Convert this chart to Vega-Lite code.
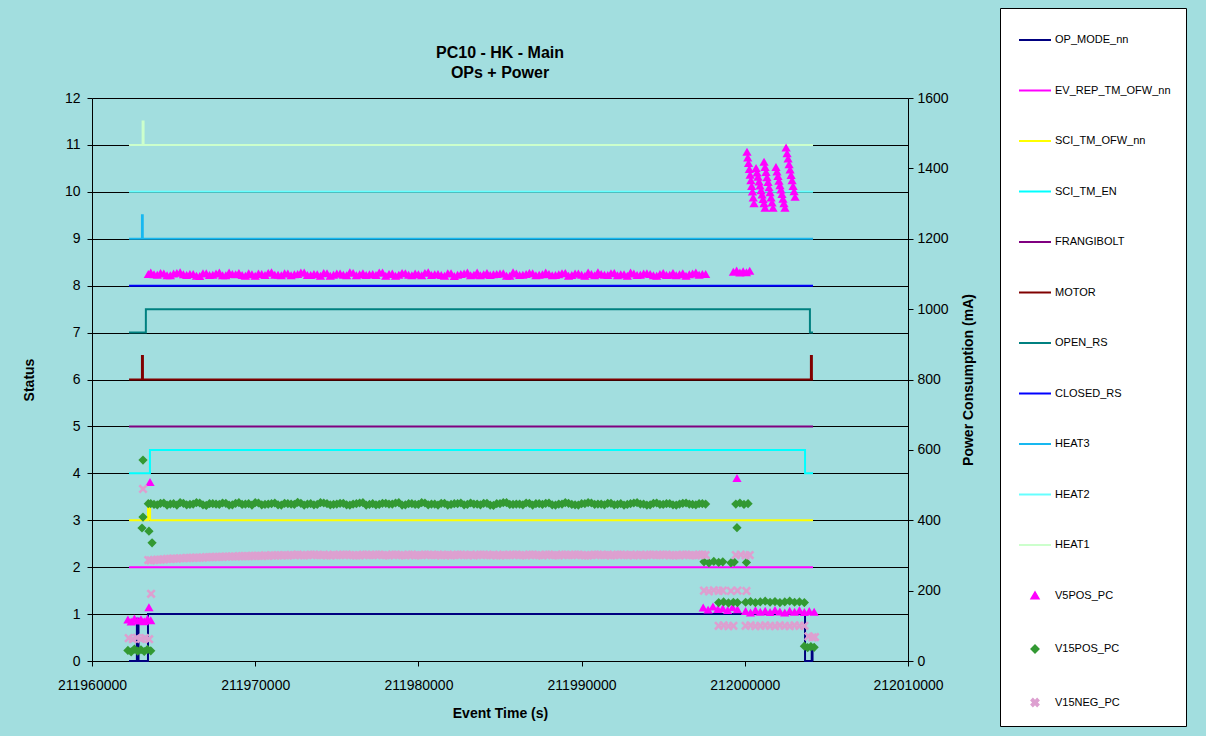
{
  "$schema": "https://vega.github.io/schema/vega-lite/v6.json",
  "autosize": {"type": "none"},
  "width": 816,
  "height": 563,
  "padding": {"left": 92, "top": 98, "right": 298, "bottom": 75},
  "background": "#A2DEDF",
  "title": {"text": ["PC10 - HK - Main", "OPs + Power"], "font": "Liberation Sans", "fontSize": 16, "fontWeight": "bold", "lineHeight": 20, "offset": -73, "anchor": "middle", "color": "black"},
  "config": {
    "view": {"stroke": null},
    "axis": {"domainColor": "black", "tickColor": "black", "labelColor": "black", "titleColor": "black", "labelFont": "Liberation Sans", "titleFont": "Liberation Sans", "labelFontSize": 14, "titleFontSize": 14, "titleFontWeight": "bold", "tickSize": 5, "domainWidth": 1, "tickWidth": 1}
  },
  "datasets": {
    "status": [
      {"s":"OP_MODE_nn","t":211962270,"v":0},{"s":"OP_MODE_nn","t":211962750,"v":0},{"s":"OP_MODE_nn","t":211962751,"v":0.9},{"s":"OP_MODE_nn","t":211962850,"v":0.9},{"s":"OP_MODE_nn","t":211962851,"v":0},{"s":"OP_MODE_nn","t":211963430,"v":0},{"s":"OP_MODE_nn","t":211963431,"v":1},{"s":"OP_MODE_nn","t":212003690,"v":1},{"s":"OP_MODE_nn","t":212003691,"v":0},{"s":"OP_MODE_nn","t":212004100,"v":0},{"s":"OP_MODE_nn","t":212004101,"v":0.3},{"s":"OP_MODE_nn","t":212004150,"v":0.3},{"s":"OP_MODE_nn","t":212004151,"v":0},{"s":"OP_MODE_nn","t":212004180,"v":0},
      {"s":"EV_REP_TM_OFW_nn","t":211962270,"v":2},{"s":"EV_REP_TM_OFW_nn","t":212004180,"v":2},
      {"s":"SCI_TM_OFW_nn","t":211962270,"v":3},{"s":"SCI_TM_OFW_nn","t":211963430,"v":3},{"s":"SCI_TM_OFW_nn","t":211963431,"v":3.4},{"s":"SCI_TM_OFW_nn","t":211963560,"v":3.4},{"s":"SCI_TM_OFW_nn","t":211963561,"v":3},{"s":"SCI_TM_OFW_nn","t":212004180,"v":3},
      {"s":"SCI_TM_EN","t":211962270,"v":4},{"s":"SCI_TM_EN","t":211963550,"v":4},{"s":"SCI_TM_EN","t":211963551,"v":4.5},{"s":"SCI_TM_EN","t":212003690,"v":4.5},{"s":"SCI_TM_EN","t":212003691,"v":4},{"s":"SCI_TM_EN","t":212004180,"v":4},
      {"s":"FRANGIBOLT","t":211962270,"v":5},{"s":"FRANGIBOLT","t":212004180,"v":5},
      {"s":"MOTOR","t":211962270,"v":6},{"s":"MOTOR","t":211963060,"v":6},{"s":"MOTOR","t":211963061,"v":6.5},{"s":"MOTOR","t":211963120,"v":6.5},{"s":"MOTOR","t":211963121,"v":6},{"s":"MOTOR","t":212004050,"v":6},{"s":"MOTOR","t":212004051,"v":6.5},{"s":"MOTOR","t":212004110,"v":6.5},{"s":"MOTOR","t":212004111,"v":6},{"s":"MOTOR","t":212004180,"v":6},
      {"s":"OPEN_RS","t":211962270,"v":7},{"s":"OPEN_RS","t":211963300,"v":7},{"s":"OPEN_RS","t":211963301,"v":7.5},{"s":"OPEN_RS","t":212003990,"v":7.5},{"s":"OPEN_RS","t":212003991,"v":7},{"s":"OPEN_RS","t":212004180,"v":7},
      {"s":"CLOSED_RS","t":211962270,"v":8},{"s":"CLOSED_RS","t":212004180,"v":8},
      {"s":"HEAT3","t":211962270,"v":9},{"s":"HEAT3","t":211963060,"v":9},{"s":"HEAT3","t":211963061,"v":9.5},{"s":"HEAT3","t":211963110,"v":9.5},{"s":"HEAT3","t":211963111,"v":9},{"s":"HEAT3","t":212004180,"v":9},
      {"s":"HEAT2","t":211962270,"v":10},{"s":"HEAT2","t":212004180,"v":10},
      {"s":"HEAT1","t":211962270,"v":11},{"s":"HEAT1","t":211963100,"v":11},{"s":"HEAT1","t":211963101,"v":11.5},{"s":"HEAT1","t":211963160,"v":11.5},{"s":"HEAT1","t":211963161,"v":11},{"s":"HEAT1","t":212004180,"v":11}
    ],
    "power": [
      {"s":"V5POS_PC","t":211962200,"p":118},{"s":"V5POS_PC","t":211962400,"p":112},{"s":"V5POS_PC","t":211962600,"p":121},{"s":"V5POS_PC","t":211962800,"p":115},{"s":"V5POS_PC","t":211963000,"p":119},{"s":"V5POS_PC","t":211963200,"p":113},{"s":"V5POS_PC","t":211963400,"p":120},{"s":"V5POS_PC","t":211963600,"p":116},
      {"s":"V5POS_PC","t":211963490,"p":153},{"s":"V5POS_PC","t":211963554,"p":509},{"s":"V5POS_PC","t":211963450,"p":1100},{"s":"V5POS_PC","t":211999520,"p":520},
      {"s":"V5POS_PC","t":211963600,"p":1104},{"s":"V5POS_PC","t":211964000,"p":1098},{"s":"V5POS_PC","t":211964400,"p":1101},{"s":"V5POS_PC","t":211964800,"p":1096},{"s":"V5POS_PC","t":211965200,"p":1103},{"s":"V5POS_PC","t":211965600,"p":1099},{"s":"V5POS_PC","t":211966000,"p":1100},{"s":"V5POS_PC","t":211966400,"p":1095},{"s":"V5POS_PC","t":211966800,"p":1102},{"s":"V5POS_PC","t":211967200,"p":1097},
      {"s":"V5POS_PC","t":211967600,"p":1101},{"s":"V5POS_PC","t":211968000,"p":1096},{"s":"V5POS_PC","t":211968400,"p":1104},{"s":"V5POS_PC","t":211968800,"p":1099},{"s":"V5POS_PC","t":211969200,"p":1097},{"s":"V5POS_PC","t":211969600,"p":1102},{"s":"V5POS_PC","t":211970000,"p":1095},{"s":"V5POS_PC","t":211970400,"p":1100},{"s":"V5POS_PC","t":211970800,"p":1103},{"s":"V5POS_PC","t":211971200,"p":1098},
      {"s":"V5POS_PC","t":211971600,"p":1096},{"s":"V5POS_PC","t":211972000,"p":1101},{"s":"V5POS_PC","t":211972400,"p":1099},{"s":"V5POS_PC","t":211972800,"p":1104},{"s":"V5POS_PC","t":211973200,"p":1097},{"s":"V5POS_PC","t":211973600,"p":1100},{"s":"V5POS_PC","t":211974000,"p":1095},{"s":"V5POS_PC","t":211974400,"p":1102},{"s":"V5POS_PC","t":211974800,"p":1098},{"s":"V5POS_PC","t":211975200,"p":1101},
      {"s":"V5POS_PC","t":211975600,"p":1096},{"s":"V5POS_PC","t":211976000,"p":1103},{"s":"V5POS_PC","t":211976400,"p":1099},{"s":"V5POS_PC","t":211976800,"p":1097},{"s":"V5POS_PC","t":211977200,"p":1100},{"s":"V5POS_PC","t":211977600,"p":1104},{"s":"V5POS_PC","t":211978000,"p":1095},{"s":"V5POS_PC","t":211978400,"p":1101},{"s":"V5POS_PC","t":211978800,"p":1098},{"s":"V5POS_PC","t":211979200,"p":1102},
      {"s":"V5POS_PC","t":211979600,"p":1096},{"s":"V5POS_PC","t":211980000,"p":1099},{"s":"V5POS_PC","t":211980400,"p":1103},{"s":"V5POS_PC","t":211980800,"p":1097},{"s":"V5POS_PC","t":211981200,"p":1100},{"s":"V5POS_PC","t":211981600,"p":1095},{"s":"V5POS_PC","t":211982000,"p":1102},{"s":"V5POS_PC","t":211982400,"p":1098},{"s":"V5POS_PC","t":211982800,"p":1101},{"s":"V5POS_PC","t":211983200,"p":1096},
      {"s":"V5POS_PC","t":211983600,"p":1104},{"s":"V5POS_PC","t":211984000,"p":1099},{"s":"V5POS_PC","t":211984400,"p":1097},{"s":"V5POS_PC","t":211984800,"p":1100},{"s":"V5POS_PC","t":211985200,"p":1102},{"s":"V5POS_PC","t":211985600,"p":1095},{"s":"V5POS_PC","t":211986000,"p":1101},{"s":"V5POS_PC","t":211986400,"p":1098},{"s":"V5POS_PC","t":211986800,"p":1103},{"s":"V5POS_PC","t":211987200,"p":1096},
      {"s":"V5POS_PC","t":211987600,"p":1099},{"s":"V5POS_PC","t":211988000,"p":1100},{"s":"V5POS_PC","t":211988400,"p":1097},{"s":"V5POS_PC","t":211988800,"p":1102},{"s":"V5POS_PC","t":211989200,"p":1095},{"s":"V5POS_PC","t":211989600,"p":1101},{"s":"V5POS_PC","t":211990000,"p":1098},{"s":"V5POS_PC","t":211990400,"p":1104},{"s":"V5POS_PC","t":211990800,"p":1096},{"s":"V5POS_PC","t":211991200,"p":1100},
      {"s":"V5POS_PC","t":211991600,"p":1097},{"s":"V5POS_PC","t":211992000,"p":1103},{"s":"V5POS_PC","t":211992400,"p":1099},{"s":"V5POS_PC","t":211992800,"p":1095},{"s":"V5POS_PC","t":211993200,"p":1101},{"s":"V5POS_PC","t":211993600,"p":1098},{"s":"V5POS_PC","t":211994000,"p":1102},{"s":"V5POS_PC","t":211994400,"p":1096},{"s":"V5POS_PC","t":211994800,"p":1100},{"s":"V5POS_PC","t":211995200,"p":1097},
      {"s":"V5POS_PC","t":211995600,"p":1103},{"s":"V5POS_PC","t":211996000,"p":1099},{"s":"V5POS_PC","t":211996400,"p":1095},{"s":"V5POS_PC","t":211996800,"p":1101},{"s":"V5POS_PC","t":211997200,"p":1098},{"s":"V5POS_PC","t":211997600,"p":1100},
      {"s":"V5POS_PC","t":211963800,"p":1099},{"s":"V5POS_PC","t":211964200,"p":1103},{"s":"V5POS_PC","t":211964600,"p":1096},{"s":"V5POS_PC","t":211965000,"p":1101},{"s":"V5POS_PC","t":211965400,"p":1105},{"s":"V5POS_PC","t":211965800,"p":1097},{"s":"V5POS_PC","t":211966200,"p":1100},{"s":"V5POS_PC","t":211966600,"p":1094},{"s":"V5POS_PC","t":211967000,"p":1102},{"s":"V5POS_PC","t":211967400,"p":1098},
      {"s":"V5POS_PC","t":211967800,"p":1104},{"s":"V5POS_PC","t":211968200,"p":1096},{"s":"V5POS_PC","t":211968600,"p":1100},{"s":"V5POS_PC","t":211969000,"p":1103},{"s":"V5POS_PC","t":211969400,"p":1095},{"s":"V5POS_PC","t":211969800,"p":1099},{"s":"V5POS_PC","t":211970200,"p":1101},{"s":"V5POS_PC","t":211970600,"p":1097},{"s":"V5POS_PC","t":211971000,"p":1105},{"s":"V5POS_PC","t":211971400,"p":1098},
      {"s":"V5POS_PC","t":211971800,"p":1102},{"s":"V5POS_PC","t":211972200,"p":1096},{"s":"V5POS_PC","t":211972600,"p":1100},{"s":"V5POS_PC","t":211973000,"p":1104},{"s":"V5POS_PC","t":211973400,"p":1097},{"s":"V5POS_PC","t":211973800,"p":1099},{"s":"V5POS_PC","t":211974200,"p":1103},{"s":"V5POS_PC","t":211974600,"p":1095},{"s":"V5POS_PC","t":211975000,"p":1101},{"s":"V5POS_PC","t":211975400,"p":1098},
      {"s":"V5POS_PC","t":211975800,"p":1105},{"s":"V5POS_PC","t":211976200,"p":1096},{"s":"V5POS_PC","t":211976600,"p":1102},{"s":"V5POS_PC","t":211977000,"p":1099},{"s":"V5POS_PC","t":211977400,"p":1097},{"s":"V5POS_PC","t":211977800,"p":1104},{"s":"V5POS_PC","t":211978200,"p":1100},{"s":"V5POS_PC","t":211978600,"p":1095},{"s":"V5POS_PC","t":211979000,"p":1103},{"s":"V5POS_PC","t":211979400,"p":1098},
      {"s":"V5POS_PC","t":211979800,"p":1101},{"s":"V5POS_PC","t":211980200,"p":1096},{"s":"V5POS_PC","t":211980600,"p":1105},{"s":"V5POS_PC","t":211981000,"p":1099},{"s":"V5POS_PC","t":211981400,"p":1097},{"s":"V5POS_PC","t":211981800,"p":1102},{"s":"V5POS_PC","t":211982200,"p":1094},{"s":"V5POS_PC","t":211982600,"p":1100},{"s":"V5POS_PC","t":211983000,"p":1104},{"s":"V5POS_PC","t":211983400,"p":1098},
      {"s":"V5POS_PC","t":211983800,"p":1096},{"s":"V5POS_PC","t":211984200,"p":1103},{"s":"V5POS_PC","t":211984600,"p":1099},{"s":"V5POS_PC","t":211985000,"p":1101},{"s":"V5POS_PC","t":211985400,"p":1095},{"s":"V5POS_PC","t":211985800,"p":1105},{"s":"V5POS_PC","t":211986200,"p":1097},{"s":"V5POS_PC","t":211986600,"p":1100},{"s":"V5POS_PC","t":211987000,"p":1102},{"s":"V5POS_PC","t":211987400,"p":1098},
      {"s":"V5POS_PC","t":211987800,"p":1104},{"s":"V5POS_PC","t":211988200,"p":1096},{"s":"V5POS_PC","t":211988600,"p":1099},{"s":"V5POS_PC","t":211989000,"p":1103},{"s":"V5POS_PC","t":211989400,"p":1097},{"s":"V5POS_PC","t":211989800,"p":1101},{"s":"V5POS_PC","t":211990200,"p":1095},{"s":"V5POS_PC","t":211990600,"p":1100},{"s":"V5POS_PC","t":211991000,"p":1105},{"s":"V5POS_PC","t":211991400,"p":1098},
      {"s":"V5POS_PC","t":211991800,"p":1102},{"s":"V5POS_PC","t":211992200,"p":1096},{"s":"V5POS_PC","t":211992600,"p":1099},{"s":"V5POS_PC","t":211993000,"p":1104},{"s":"V5POS_PC","t":211993400,"p":1097},{"s":"V5POS_PC","t":211993800,"p":1101},{"s":"V5POS_PC","t":211994200,"p":1100},{"s":"V5POS_PC","t":211994600,"p":1095},{"s":"V5POS_PC","t":211995000,"p":1103},{"s":"V5POS_PC","t":211995400,"p":1098},
      {"s":"V5POS_PC","t":211995800,"p":1096},{"s":"V5POS_PC","t":211996200,"p":1102},{"s":"V5POS_PC","t":211996600,"p":1099},{"s":"V5POS_PC","t":211997000,"p":1104},{"s":"V5POS_PC","t":211997400,"p":1100},
      {"s":"V5POS_PC","t":211999300,"p":1106},{"s":"V5POS_PC","t":211999500,"p":1110},{"s":"V5POS_PC","t":211999700,"p":1104},{"s":"V5POS_PC","t":211999900,"p":1108},{"s":"V5POS_PC","t":212000100,"p":1105},{"s":"V5POS_PC","t":212000300,"p":1109},
      {"s":"V5POS_PC","t":212000135,"p":1447},{"s":"V5POS_PC","t":212000183,"p":1431},{"s":"V5POS_PC","t":212000230,"p":1415},{"s":"V5POS_PC","t":212000278,"p":1398},{"s":"V5POS_PC","t":212000326,"p":1382},{"s":"V5POS_PC","t":212000373,"p":1366},{"s":"V5POS_PC","t":212000421,"p":1350},{"s":"V5POS_PC","t":212000469,"p":1334},{"s":"V5POS_PC","t":212000516,"p":1317},{"s":"V5POS_PC","t":212000564,"p":1301},
      {"s":"V5POS_PC","t":212000690,"p":1401},{"s":"V5POS_PC","t":212000751,"p":1388},{"s":"V5POS_PC","t":212000812,"p":1376},{"s":"V5POS_PC","t":212000873,"p":1363},{"s":"V5POS_PC","t":212000934,"p":1351},{"s":"V5POS_PC","t":212000996,"p":1338},{"s":"V5POS_PC","t":212001057,"p":1326},{"s":"V5POS_PC","t":212001118,"p":1313},{"s":"V5POS_PC","t":212001179,"p":1301},{"s":"V5POS_PC","t":212001240,"p":1288},
      {"s":"V5POS_PC","t":212001180,"p":1419},{"s":"V5POS_PC","t":212001241,"p":1404},{"s":"V5POS_PC","t":212001302,"p":1390},{"s":"V5POS_PC","t":212001363,"p":1375},{"s":"V5POS_PC","t":212001424,"p":1361},{"s":"V5POS_PC","t":212001486,"p":1346},{"s":"V5POS_PC","t":212001547,"p":1332},{"s":"V5POS_PC","t":212001608,"p":1317},{"s":"V5POS_PC","t":212001669,"p":1303},{"s":"V5POS_PC","t":212001730,"p":1288},
      {"s":"V5POS_PC","t":212001910,"p":1404},{"s":"V5POS_PC","t":212001971,"p":1391},{"s":"V5POS_PC","t":212002032,"p":1378},{"s":"V5POS_PC","t":212002093,"p":1365},{"s":"V5POS_PC","t":212002154,"p":1352},{"s":"V5POS_PC","t":212002216,"p":1340},{"s":"V5POS_PC","t":212002277,"p":1327},{"s":"V5POS_PC","t":212002338,"p":1314},{"s":"V5POS_PC","t":212002399,"p":1301},{"s":"V5POS_PC","t":212002460,"p":1288},
      {"s":"V5POS_PC","t":212002530,"p":1459},{"s":"V5POS_PC","t":212002591,"p":1443},{"s":"V5POS_PC","t":212002652,"p":1428},{"s":"V5POS_PC","t":212002713,"p":1412},{"s":"V5POS_PC","t":212002774,"p":1397},{"s":"V5POS_PC","t":212002836,"p":1381},{"s":"V5POS_PC","t":212002897,"p":1366},{"s":"V5POS_PC","t":212002958,"p":1350},{"s":"V5POS_PC","t":212003019,"p":1335},{"s":"V5POS_PC","t":212003080,"p":1319},
      {"s":"V5POS_PC","t":211997450,"p":152},{"s":"V5POS_PC","t":211997750,"p":146},{"s":"V5POS_PC","t":211998050,"p":155},{"s":"V5POS_PC","t":211998350,"p":148},{"s":"V5POS_PC","t":211998650,"p":150},{"s":"V5POS_PC","t":211998950,"p":145},{"s":"V5POS_PC","t":211999250,"p":153},{"s":"V5POS_PC","t":211999550,"p":147},
      {"s":"V5POS_PC","t":212000050,"p":142},{"s":"V5POS_PC","t":212000350,"p":138},{"s":"V5POS_PC","t":212000650,"p":144},{"s":"V5POS_PC","t":212000950,"p":140},{"s":"V5POS_PC","t":212001250,"p":143},{"s":"V5POS_PC","t":212001550,"p":139},{"s":"V5POS_PC","t":212001850,"p":145},{"s":"V5POS_PC","t":212002150,"p":141},{"s":"V5POS_PC","t":212002450,"p":138},{"s":"V5POS_PC","t":212002750,"p":143},{"s":"V5POS_PC","t":212003050,"p":140},{"s":"V5POS_PC","t":212003350,"p":144},{"s":"V5POS_PC","t":212003650,"p":139},{"s":"V5POS_PC","t":212003950,"p":142},{"s":"V5POS_PC","t":212004250,"p":140},

      {"s":"V15POS_PC","t":211962200,"p":30},{"s":"V15POS_PC","t":211962400,"p":26},{"s":"V15POS_PC","t":211962600,"p":34},{"s":"V15POS_PC","t":211962800,"p":28},{"s":"V15POS_PC","t":211963000,"p":32},{"s":"V15POS_PC","t":211963200,"p":27},{"s":"V15POS_PC","t":211963400,"p":33},{"s":"V15POS_PC","t":211963600,"p":29},
      {"s":"V15POS_PC","t":211963125,"p":571},{"s":"V15POS_PC","t":211963125,"p":409},{"s":"V15POS_PC","t":211963064,"p":378},{"s":"V15POS_PC","t":211963490,"p":369},{"s":"V15POS_PC","t":211963680,"p":336},{"s":"V15POS_PC","t":211963450,"p":447},
      {"s":"V15POS_PC","t":211963600,"p":447},{"s":"V15POS_PC","t":211964000,"p":444},{"s":"V15POS_PC","t":211964400,"p":449},{"s":"V15POS_PC","t":211964800,"p":446},{"s":"V15POS_PC","t":211965200,"p":443},{"s":"V15POS_PC","t":211965600,"p":448},{"s":"V15POS_PC","t":211966000,"p":445},{"s":"V15POS_PC","t":211966400,"p":450},{"s":"V15POS_PC","t":211966800,"p":444},{"s":"V15POS_PC","t":211967200,"p":447},
      {"s":"V15POS_PC","t":211967600,"p":446},{"s":"V15POS_PC","t":211968000,"p":449},{"s":"V15POS_PC","t":211968400,"p":443},{"s":"V15POS_PC","t":211968800,"p":448},{"s":"V15POS_PC","t":211969200,"p":445},{"s":"V15POS_PC","t":211969600,"p":447},{"s":"V15POS_PC","t":211970000,"p":450},{"s":"V15POS_PC","t":211970400,"p":444},{"s":"V15POS_PC","t":211970800,"p":446},{"s":"V15POS_PC","t":211971200,"p":449},
      {"s":"V15POS_PC","t":211971600,"p":443},{"s":"V15POS_PC","t":211972000,"p":447},{"s":"V15POS_PC","t":211972400,"p":445},{"s":"V15POS_PC","t":211972800,"p":448},{"s":"V15POS_PC","t":211973200,"p":446},{"s":"V15POS_PC","t":211973600,"p":444},{"s":"V15POS_PC","t":211974000,"p":450},{"s":"V15POS_PC","t":211974400,"p":447},{"s":"V15POS_PC","t":211974800,"p":445},{"s":"V15POS_PC","t":211975200,"p":448},
      {"s":"V15POS_PC","t":211975600,"p":444},{"s":"V15POS_PC","t":211976000,"p":446},{"s":"V15POS_PC","t":211976400,"p":449},{"s":"V15POS_PC","t":211976800,"p":443},{"s":"V15POS_PC","t":211977200,"p":447},{"s":"V15POS_PC","t":211977600,"p":445},{"s":"V15POS_PC","t":211978000,"p":448},{"s":"V15POS_PC","t":211978400,"p":446},{"s":"V15POS_PC","t":211978800,"p":450},{"s":"V15POS_PC","t":211979200,"p":444},
      {"s":"V15POS_PC","t":211979600,"p":447},{"s":"V15POS_PC","t":211980000,"p":445},{"s":"V15POS_PC","t":211980400,"p":449},{"s":"V15POS_PC","t":211980800,"p":446},{"s":"V15POS_PC","t":211981200,"p":443},{"s":"V15POS_PC","t":211981600,"p":448},{"s":"V15POS_PC","t":211982000,"p":445},{"s":"V15POS_PC","t":211982400,"p":447},{"s":"V15POS_PC","t":211982800,"p":444},{"s":"V15POS_PC","t":211983200,"p":449},
      {"s":"V15POS_PC","t":211983600,"p":446},{"s":"V15POS_PC","t":211984000,"p":448},{"s":"V15POS_PC","t":211984400,"p":443},{"s":"V15POS_PC","t":211984800,"p":447},{"s":"V15POS_PC","t":211985200,"p":450},{"s":"V15POS_PC","t":211985600,"p":445},{"s":"V15POS_PC","t":211986000,"p":446},{"s":"V15POS_PC","t":211986400,"p":444},{"s":"V15POS_PC","t":211986800,"p":448},{"s":"V15POS_PC","t":211987200,"p":447},
      {"s":"V15POS_PC","t":211987600,"p":445},{"s":"V15POS_PC","t":211988000,"p":449},{"s":"V15POS_PC","t":211988400,"p":443},{"s":"V15POS_PC","t":211988800,"p":446},{"s":"V15POS_PC","t":211989200,"p":448},{"s":"V15POS_PC","t":211989600,"p":444},{"s":"V15POS_PC","t":211990000,"p":447},{"s":"V15POS_PC","t":211990400,"p":450},{"s":"V15POS_PC","t":211990800,"p":445},{"s":"V15POS_PC","t":211991200,"p":446},
      {"s":"V15POS_PC","t":211991600,"p":448},{"s":"V15POS_PC","t":211992000,"p":444},{"s":"V15POS_PC","t":211992400,"p":447},{"s":"V15POS_PC","t":211992800,"p":445},{"s":"V15POS_PC","t":211993200,"p":449},{"s":"V15POS_PC","t":211993600,"p":446},{"s":"V15POS_PC","t":211994000,"p":443},{"s":"V15POS_PC","t":211994400,"p":448},{"s":"V15POS_PC","t":211994800,"p":445},{"s":"V15POS_PC","t":211995200,"p":447},
      {"s":"V15POS_PC","t":211995600,"p":444},{"s":"V15POS_PC","t":211996000,"p":446},{"s":"V15POS_PC","t":211996400,"p":449},{"s":"V15POS_PC","t":211996800,"p":445},{"s":"V15POS_PC","t":211997200,"p":447},{"s":"V15POS_PC","t":211997600,"p":446},
      {"s":"V15POS_PC","t":211963800,"p":445},{"s":"V15POS_PC","t":211964200,"p":448},{"s":"V15POS_PC","t":211964600,"p":443},{"s":"V15POS_PC","t":211965000,"p":447},{"s":"V15POS_PC","t":211965400,"p":450},{"s":"V15POS_PC","t":211965800,"p":444},{"s":"V15POS_PC","t":211966200,"p":446},{"s":"V15POS_PC","t":211966600,"p":449},{"s":"V15POS_PC","t":211967000,"p":442},{"s":"V15POS_PC","t":211967400,"p":447},
      {"s":"V15POS_PC","t":211967800,"p":445},{"s":"V15POS_PC","t":211968200,"p":448},{"s":"V15POS_PC","t":211968600,"p":444},{"s":"V15POS_PC","t":211969000,"p":450},{"s":"V15POS_PC","t":211969400,"p":446},{"s":"V15POS_PC","t":211969800,"p":443},{"s":"V15POS_PC","t":211970200,"p":449},{"s":"V15POS_PC","t":211970600,"p":445},{"s":"V15POS_PC","t":211971000,"p":447},{"s":"V15POS_PC","t":211971400,"p":444},
      {"s":"V15POS_PC","t":211971800,"p":448},{"s":"V15POS_PC","t":211972200,"p":446},{"s":"V15POS_PC","t":211972600,"p":451},{"s":"V15POS_PC","t":211973000,"p":443},{"s":"V15POS_PC","t":211973400,"p":447},{"s":"V15POS_PC","t":211973800,"p":445},{"s":"V15POS_PC","t":211974200,"p":449},{"s":"V15POS_PC","t":211974600,"p":444},{"s":"V15POS_PC","t":211975000,"p":446},{"s":"V15POS_PC","t":211975400,"p":448},
      {"s":"V15POS_PC","t":211975800,"p":443},{"s":"V15POS_PC","t":211976200,"p":447},{"s":"V15POS_PC","t":211976600,"p":450},{"s":"V15POS_PC","t":211977000,"p":445},{"s":"V15POS_PC","t":211977400,"p":444},{"s":"V15POS_PC","t":211977800,"p":448},{"s":"V15POS_PC","t":211978200,"p":446},{"s":"V15POS_PC","t":211978600,"p":449},{"s":"V15POS_PC","t":211979000,"p":443},{"s":"V15POS_PC","t":211979400,"p":447},
      {"s":"V15POS_PC","t":211979800,"p":445},{"s":"V15POS_PC","t":211980200,"p":450},{"s":"V15POS_PC","t":211980600,"p":444},{"s":"V15POS_PC","t":211981000,"p":446},{"s":"V15POS_PC","t":211981400,"p":448},{"s":"V15POS_PC","t":211981800,"p":443},{"s":"V15POS_PC","t":211982200,"p":447},{"s":"V15POS_PC","t":211982600,"p":449},{"s":"V15POS_PC","t":211983000,"p":445},{"s":"V15POS_PC","t":211983400,"p":446},
      {"s":"V15POS_PC","t":211983800,"p":444},{"s":"V15POS_PC","t":211984200,"p":448},{"s":"V15POS_PC","t":211984600,"p":442},{"s":"V15POS_PC","t":211985000,"p":447},{"s":"V15POS_PC","t":211985400,"p":450},{"s":"V15POS_PC","t":211985800,"p":445},{"s":"V15POS_PC","t":211986200,"p":446},{"s":"V15POS_PC","t":211986600,"p":449},{"s":"V15POS_PC","t":211987000,"p":443},{"s":"V15POS_PC","t":211987400,"p":447},
      {"s":"V15POS_PC","t":211987800,"p":448},{"s":"V15POS_PC","t":211988200,"p":444},{"s":"V15POS_PC","t":211988600,"p":446},{"s":"V15POS_PC","t":211989000,"p":450},{"s":"V15POS_PC","t":211989400,"p":445},{"s":"V15POS_PC","t":211989800,"p":443},{"s":"V15POS_PC","t":211990200,"p":447},{"s":"V15POS_PC","t":211990600,"p":449},{"s":"V15POS_PC","t":211991000,"p":446},{"s":"V15POS_PC","t":211991400,"p":444},
      {"s":"V15POS_PC","t":211991800,"p":448},{"s":"V15POS_PC","t":211992200,"p":445},{"s":"V15POS_PC","t":211992600,"p":443},{"s":"V15POS_PC","t":211993000,"p":447},{"s":"V15POS_PC","t":211993400,"p":450},{"s":"V15POS_PC","t":211993800,"p":446},{"s":"V15POS_PC","t":211994200,"p":444},{"s":"V15POS_PC","t":211994600,"p":449},{"s":"V15POS_PC","t":211995000,"p":445},{"s":"V15POS_PC","t":211995400,"p":447},
      {"s":"V15POS_PC","t":211995800,"p":443},{"s":"V15POS_PC","t":211996200,"p":448},{"s":"V15POS_PC","t":211996600,"p":446},{"s":"V15POS_PC","t":211997000,"p":444},{"s":"V15POS_PC","t":211997400,"p":447},
      {"s":"V15POS_PC","t":211997500,"p":282},{"s":"V15POS_PC","t":211997800,"p":279},{"s":"V15POS_PC","t":211998100,"p":283},{"s":"V15POS_PC","t":211998400,"p":280},{"s":"V15POS_PC","t":211998650,"p":282},{"s":"V15POS_PC","t":211999150,"p":279},{"s":"V15POS_PC","t":211999350,"p":281},{"s":"V15POS_PC","t":212000100,"p":280},
      {"s":"V15POS_PC","t":211999450,"p":446},{"s":"V15POS_PC","t":211999700,"p":449},{"s":"V15POS_PC","t":211999950,"p":445},{"s":"V15POS_PC","t":212000200,"p":447},{"s":"V15POS_PC","t":211999520,"p":379},
      {"s":"V15POS_PC","t":211998400,"p":166},{"s":"V15POS_PC","t":211998700,"p":168},{"s":"V15POS_PC","t":211999000,"p":165},{"s":"V15POS_PC","t":211999300,"p":167},{"s":"V15POS_PC","t":211999550,"p":166},
      {"s":"V15POS_PC","t":212000050,"p":167},{"s":"V15POS_PC","t":212000350,"p":169},{"s":"V15POS_PC","t":212000650,"p":166},{"s":"V15POS_PC","t":212000950,"p":168},{"s":"V15POS_PC","t":212001250,"p":170},{"s":"V15POS_PC","t":212001550,"p":167},{"s":"V15POS_PC","t":212001850,"p":169},{"s":"V15POS_PC","t":212002150,"p":166},{"s":"V15POS_PC","t":212002450,"p":168},{"s":"V15POS_PC","t":212002750,"p":170},{"s":"V15POS_PC","t":212003050,"p":167},{"s":"V15POS_PC","t":212003350,"p":168},{"s":"V15POS_PC","t":212003650,"p":166},
      {"s":"V15POS_PC","t":212003650,"p":42},{"s":"V15POS_PC","t":212003850,"p":38},{"s":"V15POS_PC","t":212004050,"p":41},{"s":"V15POS_PC","t":212004250,"p":39},

      {"s":"V15NEG_PC","t":211962250,"p":65},{"s":"V15NEG_PC","t":211962500,"p":62},{"s":"V15NEG_PC","t":211962750,"p":66},{"s":"V15NEG_PC","t":211963000,"p":63},{"s":"V15NEG_PC","t":211963250,"p":65},{"s":"V15NEG_PC","t":211963500,"p":62},
      {"s":"V15NEG_PC","t":211963125,"p":489},{"s":"V15NEG_PC","t":211963620,"p":191},{"s":"V15NEG_PC","t":211963450,"p":287},
      {"s":"V15NEG_PC","t":211963600,"p":286},{"s":"V15NEG_PC","t":211964000,"p":288},{"s":"V15NEG_PC","t":211964400,"p":289},{"s":"V15NEG_PC","t":211964800,"p":290},{"s":"V15NEG_PC","t":211965200,"p":291},{"s":"V15NEG_PC","t":211965600,"p":292},{"s":"V15NEG_PC","t":211966000,"p":293},{"s":"V15NEG_PC","t":211966400,"p":294},{"s":"V15NEG_PC","t":211966800,"p":294},{"s":"V15NEG_PC","t":211967200,"p":295},
      {"s":"V15NEG_PC","t":211967600,"p":296},{"s":"V15NEG_PC","t":211968000,"p":296},{"s":"V15NEG_PC","t":211968400,"p":297},{"s":"V15NEG_PC","t":211968800,"p":297},{"s":"V15NEG_PC","t":211969200,"p":298},{"s":"V15NEG_PC","t":211969600,"p":298},{"s":"V15NEG_PC","t":211970000,"p":299},{"s":"V15NEG_PC","t":211970400,"p":299},{"s":"V15NEG_PC","t":211970800,"p":299},{"s":"V15NEG_PC","t":211971200,"p":300},
      {"s":"V15NEG_PC","t":211971600,"p":300},{"s":"V15NEG_PC","t":211972000,"p":300},{"s":"V15NEG_PC","t":211972400,"p":301},{"s":"V15NEG_PC","t":211972800,"p":301},{"s":"V15NEG_PC","t":211973200,"p":301},{"s":"V15NEG_PC","t":211973600,"p":302},{"s":"V15NEG_PC","t":211974000,"p":301},{"s":"V15NEG_PC","t":211974400,"p":300},{"s":"V15NEG_PC","t":211974800,"p":302},{"s":"V15NEG_PC","t":211975200,"p":301},
      {"s":"V15NEG_PC","t":211975600,"p":302},{"s":"V15NEG_PC","t":211976000,"p":301},{"s":"V15NEG_PC","t":211976400,"p":300},{"s":"V15NEG_PC","t":211976800,"p":302},{"s":"V15NEG_PC","t":211977200,"p":301},{"s":"V15NEG_PC","t":211977600,"p":302},{"s":"V15NEG_PC","t":211978000,"p":301},{"s":"V15NEG_PC","t":211978400,"p":302},{"s":"V15NEG_PC","t":211978800,"p":301},{"s":"V15NEG_PC","t":211979200,"p":300},
      {"s":"V15NEG_PC","t":211979600,"p":302},{"s":"V15NEG_PC","t":211980000,"p":301},{"s":"V15NEG_PC","t":211980400,"p":302},{"s":"V15NEG_PC","t":211980800,"p":301},{"s":"V15NEG_PC","t":211981200,"p":302},{"s":"V15NEG_PC","t":211981600,"p":301},{"s":"V15NEG_PC","t":211982000,"p":300},{"s":"V15NEG_PC","t":211982400,"p":302},{"s":"V15NEG_PC","t":211982800,"p":301},{"s":"V15NEG_PC","t":211983200,"p":302},
      {"s":"V15NEG_PC","t":211983600,"p":301},{"s":"V15NEG_PC","t":211984000,"p":302},{"s":"V15NEG_PC","t":211984400,"p":301},{"s":"V15NEG_PC","t":211984800,"p":300},{"s":"V15NEG_PC","t":211985200,"p":302},{"s":"V15NEG_PC","t":211985600,"p":301},{"s":"V15NEG_PC","t":211986000,"p":302},{"s":"V15NEG_PC","t":211986400,"p":301},{"s":"V15NEG_PC","t":211986800,"p":302},{"s":"V15NEG_PC","t":211987200,"p":301},
      {"s":"V15NEG_PC","t":211987600,"p":300},{"s":"V15NEG_PC","t":211988000,"p":302},{"s":"V15NEG_PC","t":211988400,"p":301},{"s":"V15NEG_PC","t":211988800,"p":302},{"s":"V15NEG_PC","t":211989200,"p":301},{"s":"V15NEG_PC","t":211989600,"p":302},{"s":"V15NEG_PC","t":211990000,"p":301},{"s":"V15NEG_PC","t":211990400,"p":300},{"s":"V15NEG_PC","t":211990800,"p":302},{"s":"V15NEG_PC","t":211991200,"p":301},
      {"s":"V15NEG_PC","t":211991600,"p":302},{"s":"V15NEG_PC","t":211992000,"p":301},{"s":"V15NEG_PC","t":211992400,"p":302},{"s":"V15NEG_PC","t":211992800,"p":301},{"s":"V15NEG_PC","t":211993200,"p":300},{"s":"V15NEG_PC","t":211993600,"p":302},{"s":"V15NEG_PC","t":211994000,"p":301},{"s":"V15NEG_PC","t":211994400,"p":302},{"s":"V15NEG_PC","t":211994800,"p":301},{"s":"V15NEG_PC","t":211995200,"p":302},
      {"s":"V15NEG_PC","t":211995600,"p":301},{"s":"V15NEG_PC","t":211996000,"p":300},{"s":"V15NEG_PC","t":211996400,"p":302},{"s":"V15NEG_PC","t":211996800,"p":301},{"s":"V15NEG_PC","t":211997200,"p":302},{"s":"V15NEG_PC","t":211997600,"p":301},
      {"s":"V15NEG_PC","t":211963800,"p":287},{"s":"V15NEG_PC","t":211964200,"p":288},{"s":"V15NEG_PC","t":211964600,"p":290},{"s":"V15NEG_PC","t":211965000,"p":291},{"s":"V15NEG_PC","t":211965400,"p":292},{"s":"V15NEG_PC","t":211965800,"p":293},{"s":"V15NEG_PC","t":211966200,"p":293},{"s":"V15NEG_PC","t":211966600,"p":294},{"s":"V15NEG_PC","t":211967000,"p":295},{"s":"V15NEG_PC","t":211967400,"p":295},
      {"s":"V15NEG_PC","t":211967800,"p":296},{"s":"V15NEG_PC","t":211968200,"p":297},{"s":"V15NEG_PC","t":211968600,"p":297},{"s":"V15NEG_PC","t":211969000,"p":298},{"s":"V15NEG_PC","t":211969400,"p":298},{"s":"V15NEG_PC","t":211969800,"p":299},{"s":"V15NEG_PC","t":211970200,"p":299},{"s":"V15NEG_PC","t":211970600,"p":300},{"s":"V15NEG_PC","t":211971000,"p":300},{"s":"V15NEG_PC","t":211971400,"p":300},
      {"s":"V15NEG_PC","t":211971800,"p":301},{"s":"V15NEG_PC","t":211972200,"p":301},{"s":"V15NEG_PC","t":211972600,"p":302},
      {"s":"V15NEG_PC","t":211973000,"p":300},{"s":"V15NEG_PC","t":211973400,"p":302},{"s":"V15NEG_PC","t":211973800,"p":301},{"s":"V15NEG_PC","t":211974200,"p":302},{"s":"V15NEG_PC","t":211974600,"p":300},{"s":"V15NEG_PC","t":211975000,"p":301},{"s":"V15NEG_PC","t":211975400,"p":302},{"s":"V15NEG_PC","t":211975800,"p":301},{"s":"V15NEG_PC","t":211976200,"p":300},{"s":"V15NEG_PC","t":211976600,"p":302},
      {"s":"V15NEG_PC","t":211977000,"p":301},{"s":"V15NEG_PC","t":211977400,"p":302},{"s":"V15NEG_PC","t":211977800,"p":301},{"s":"V15NEG_PC","t":211978200,"p":300},{"s":"V15NEG_PC","t":211978600,"p":302},{"s":"V15NEG_PC","t":211979000,"p":301},{"s":"V15NEG_PC","t":211979400,"p":302},{"s":"V15NEG_PC","t":211979800,"p":300},{"s":"V15NEG_PC","t":211980200,"p":301},{"s":"V15NEG_PC","t":211980600,"p":302},
      {"s":"V15NEG_PC","t":211981000,"p":301},{"s":"V15NEG_PC","t":211981400,"p":300},{"s":"V15NEG_PC","t":211981800,"p":302},{"s":"V15NEG_PC","t":211982200,"p":301},{"s":"V15NEG_PC","t":211982600,"p":302},{"s":"V15NEG_PC","t":211983000,"p":301},{"s":"V15NEG_PC","t":211983400,"p":300},{"s":"V15NEG_PC","t":211983800,"p":302},{"s":"V15NEG_PC","t":211984200,"p":301},{"s":"V15NEG_PC","t":211984600,"p":302},
      {"s":"V15NEG_PC","t":211985000,"p":300},{"s":"V15NEG_PC","t":211985400,"p":301},{"s":"V15NEG_PC","t":211985800,"p":302},{"s":"V15NEG_PC","t":211986200,"p":301},{"s":"V15NEG_PC","t":211986600,"p":300},{"s":"V15NEG_PC","t":211987000,"p":302},{"s":"V15NEG_PC","t":211987400,"p":301},{"s":"V15NEG_PC","t":211987800,"p":302},{"s":"V15NEG_PC","t":211988200,"p":301},{"s":"V15NEG_PC","t":211988600,"p":300},
      {"s":"V15NEG_PC","t":211989000,"p":302},{"s":"V15NEG_PC","t":211989400,"p":301},{"s":"V15NEG_PC","t":211989800,"p":302},{"s":"V15NEG_PC","t":211990200,"p":300},{"s":"V15NEG_PC","t":211990600,"p":301},{"s":"V15NEG_PC","t":211991000,"p":302},{"s":"V15NEG_PC","t":211991400,"p":301},{"s":"V15NEG_PC","t":211991800,"p":300},{"s":"V15NEG_PC","t":211992200,"p":302},{"s":"V15NEG_PC","t":211992600,"p":301},
      {"s":"V15NEG_PC","t":211993000,"p":302},{"s":"V15NEG_PC","t":211993400,"p":301},{"s":"V15NEG_PC","t":211993800,"p":300},{"s":"V15NEG_PC","t":211994200,"p":302},{"s":"V15NEG_PC","t":211994600,"p":301},{"s":"V15NEG_PC","t":211995000,"p":302},{"s":"V15NEG_PC","t":211995400,"p":300},{"s":"V15NEG_PC","t":211995800,"p":301},{"s":"V15NEG_PC","t":211996200,"p":302},{"s":"V15NEG_PC","t":211996600,"p":301},
      {"s":"V15NEG_PC","t":211997000,"p":300},{"s":"V15NEG_PC","t":211997400,"p":302},
      {"s":"V15NEG_PC","t":211997500,"p":200},{"s":"V15NEG_PC","t":211997800,"p":198},{"s":"V15NEG_PC","t":211998100,"p":201},{"s":"V15NEG_PC","t":211998400,"p":199},{"s":"V15NEG_PC","t":211998650,"p":200},{"s":"V15NEG_PC","t":211999150,"p":199},{"s":"V15NEG_PC","t":211999550,"p":200},{"s":"V15NEG_PC","t":212000100,"p":199},
      {"s":"V15NEG_PC","t":211999450,"p":301},{"s":"V15NEG_PC","t":211999750,"p":302},{"s":"V15NEG_PC","t":212000050,"p":300},{"s":"V15NEG_PC","t":212000300,"p":301},
      {"s":"V15NEG_PC","t":211998400,"p":100},{"s":"V15NEG_PC","t":211998700,"p":101},{"s":"V15NEG_PC","t":211999000,"p":99},{"s":"V15NEG_PC","t":211999300,"p":100},
      {"s":"V15NEG_PC","t":212000050,"p":100},{"s":"V15NEG_PC","t":212000350,"p":101},{"s":"V15NEG_PC","t":212000650,"p":99},{"s":"V15NEG_PC","t":212000950,"p":100},{"s":"V15NEG_PC","t":212001250,"p":101},{"s":"V15NEG_PC","t":212001550,"p":100},{"s":"V15NEG_PC","t":212001850,"p":99},{"s":"V15NEG_PC","t":212002150,"p":101},{"s":"V15NEG_PC","t":212002450,"p":100},{"s":"V15NEG_PC","t":212002750,"p":99},{"s":"V15NEG_PC","t":212003050,"p":101},{"s":"V15NEG_PC","t":212003350,"p":100},{"s":"V15NEG_PC","t":212003650,"p":100},
      {"s":"V15NEG_PC","t":212003900,"p":70},{"s":"V15NEG_PC","t":212004150,"p":67},{"s":"V15NEG_PC","t":212004300,"p":68}
    ]
  },
  "layer": [
    {
      "data": {"name": "status"},
      "mark": {"type": "line", "strokeWidth": 2, "interpolate": "linear"},
      "encoding": {
        "x": {"field": "t", "type": "quantitative", "scale": {"domain": [211960000, 212010000], "nice": false, "zero": false},
              "axis": {"title": "Event Time (s)", "values": [211960000, 211970000, 211980000, 211990000, 212000000, 212010000], "format": "d", "labelPadding": 12, "titlePadding": 14, "grid": false, "labelFlush": false}},
        "y": {"field": "v", "type": "quantitative", "scale": {"domain": [0, 12], "nice": false, "zero": true},
              "axis": {"title": "Status", "values": [0,1,2,3,4,5,6,7,8,9,10,11,12], "grid": true, "gridColor": "black", "gridOpacity": 1, "gridWidth": 1, "labelPadding": 7, "titlePadding": 28}},
        "color": {"field": "s", "type": "nominal",
          "scale": {"domain": ["OP_MODE_nn","EV_REP_TM_OFW_nn","SCI_TM_OFW_nn","SCI_TM_EN","FRANGIBOLT","MOTOR","OPEN_RS","CLOSED_RS","HEAT3","HEAT2","HEAT1","V5POS_PC","V15POS_PC","V15NEG_PC"],
                    "range": ["#000080","#FF00FF","#FFFF00","#00FFFF","#800080","#800000","#008080","#0000FF","#18B8F0","#66FFFF","#CCFFCC","#FF00FF","#339933","#DDA0D0"]},
          "legend": {"title": null, "orient": "none", "legendX": 908, "legendY": -90, "fillColor": "white", "strokeColor": "black", "padding": 15, "symbolOffset": 3, "labelFont": "Liberation Sans", "labelFontSize": 11, "labelColor": "black", "labelOffset": 3, "rowPadding": 28.5, "symbolSize": 1024, "symbolStrokeWidth": 2,
            "encode": {"symbols": {"update": {
              "size": {"signal": "indexof(['V5POS_PC','V15POS_PC','V15NEG_PC'], datum.value) >= 0 ? 50 : 1024"},
              "fill": {"scale": "color", "field": "value"},
              "stroke": {"signal": "indexof(['V5POS_PC','V15POS_PC','V15NEG_PC'], datum.value) >= 0 ? 'transparent' : scale('color', datum.value)"},
              "strokeWidth": {"value": 2},
              "opacity": {"value": 1}
            }}}}
        },
        "detail": {"field": "s"}
      }
    },
    {
      "data": {"name": "power"},
      "mark": {"type": "point", "filled": true, "size": 85, "opacity": 1},
      "encoding": {
        "x": {"field": "t", "type": "quantitative"},
        "y": {"field": "p", "type": "quantitative", "scale": {"domain": [0, 1600], "nice": false},
              "axis": {"orient": "right", "title": "Power Consumption (mA)", "values": [0,200,400,600,800,1000,1200,1400,1600], "format": "d", "grid": false, "labelPadding": 4, "titlePadding": 27, "titleAngle": 270}},
        "color": {"field": "s", "type": "nominal"},
        "shape": {"field": "s", "type": "nominal",
          "scale": {"domain": ["OP_MODE_nn","EV_REP_TM_OFW_nn","SCI_TM_OFW_nn","SCI_TM_EN","FRANGIBOLT","MOTOR","OPEN_RS","CLOSED_RS","HEAT3","HEAT2","HEAT1","V5POS_PC","V15POS_PC","V15NEG_PC"],
                    "range": ["stroke","stroke","stroke","stroke","stroke","stroke","stroke","stroke","stroke","stroke","stroke","triangle-up","diamond","M-1,-0.6L-0.6,-1L0,-0.4L0.6,-1L1,-0.6L0.4,0L1,0.6L0.6,1L0,0.4L-0.6,1L-1,0.6L-0.4,0Z"]},
          "legend": {"title": null}
        }
      }
    }
  ],
  "resolve": {"scale": {"y": "independent"}}
}
